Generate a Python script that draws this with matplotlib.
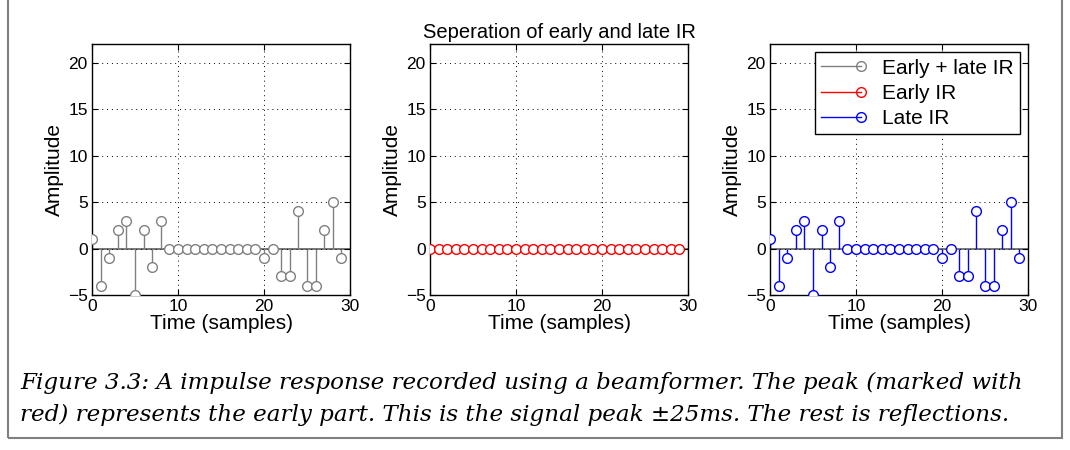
import matplotlib
matplotlib.use("Agg")
import matplotlib.pyplot as plt
from matplotlib.lines import Line2D
from matplotlib.legend_handler import HandlerLine2D
from matplotlib.patches import Rectangle
import numpy as np

# ── Données ────────────────────────────────────────────────────────────────────
samples  = list(range(30))
combined = [1, -4, -1, 2, 3, -5, 2, -2, 3, 0,
            0, 0, 0, 0, 0, 0, 0, 0, 0, 0,
            -1, 0, -3, -3, 4, -4, -4, 2, 5, -1]
early    = [0] * 30
late     = [c - e for c, e in zip(combined, early)]

labels = ["Early + late IR", "Early IR", "Late IR"]
colors = ["#808080", "#ff0000", "#0000ff"]
series = [combined, early, late]

# ── Légende façon MATLAB : marqueur au bout du trait ───────────────────────────
class StemHandler(HandlerLine2D):
    def create_artists(self, legend, orig, xd, yd, w, h, fs, trans):
        y = h / 2 - yd
        line = Line2D([-xd, -xd + w], [y, y], color=orig.get_color(), lw=1)
        mark = Line2D([-xd + w], [y], marker="o", mfc="none",
                      mec=orig.get_color(), ms=7, lw=0)
        line.set_transform(trans)
        mark.set_transform(trans)
        return [line, mark]

plt.rcParams["font.family"] = ["Liberation Sans", "DejaVu Sans"]

fig = plt.figure(figsize=(10.7, 4.5), dpi=100)
lefts = [92, 430, 770]
axes = [fig.add_axes([l / 1070, 1 - 295 / 450, 258 / 1070, 251 / 450]) for l in lefts]

handles = []
for ax, y, c in zip(axes, series, colors):
    ax.axhline(0, color="#606060", lw=1.2, zorder=1)
    ax.vlines(samples, 0, y, color=c, lw=1, zorder=2)
    h, = ax.plot(samples, y, ls="none", marker="o", ms=7, mfc="white",
                 mec=c, mew=1, color=c, zorder=3)
    handles.append(h)
    ax.set_xlim(0, 30)
    ax.set_ylim(-5, 22)
    ax.set_xticks([0, 10, 20, 30])
    ax.set_yticks([-5, 0, 5, 10, 15, 20])
    ax.set_yticklabels(["\u22125", "0", "5", "10", "15", "20"])
    ax.grid(True, color="black", ls=(0, (1, 4)), lw=0.7)
    ax.tick_params(direction="in", labelsize=12.5, top=True, right=True,
                   length=4, pad=3)
    ax.set_xlabel("Time (samples)", fontsize=15, labelpad=0)
    ax.set_ylabel("Amplitude", fontsize=15, labelpad=3)
    for s in ax.spines.values():
        s.set_linewidth(1.0)

axes[1].set_title("Seperation of early and late IR", fontsize=14.5, pad=4)

axes[2].legend(handles, labels, loc="upper right", fontsize=15,
               handler_map={Line2D: StemHandler()}, handlelength=1.9,
               handletextpad=1.0, fancybox=False, edgecolor="black",
               framealpha=1, borderaxespad=0.4, labelspacing=0.3,
               borderpad=0.3, bbox_to_anchor=(1.0, 1.0))

cap = dict(fontsize=16.6, family=["DejaVu Serif"], style="italic", va="center")
fig.text(0.019, 0.149,
         "Figure 3.3: A impulse response recorded using a beamformer. The peak (marked with", **cap)
fig.text(0.019, 0.078,
         "red) represents the early part. This is the signal peak \u00b125ms. The rest is reflections.", **cap)

fig.patches.append(Rectangle((8 / 1070, 12 / 450), 1054 / 1070, 440 / 450,
                             transform=fig.transFigure, fill=False,
                             edgecolor="#808080", lw=1.5))

fig.savefig("out.png", dpi=100)
